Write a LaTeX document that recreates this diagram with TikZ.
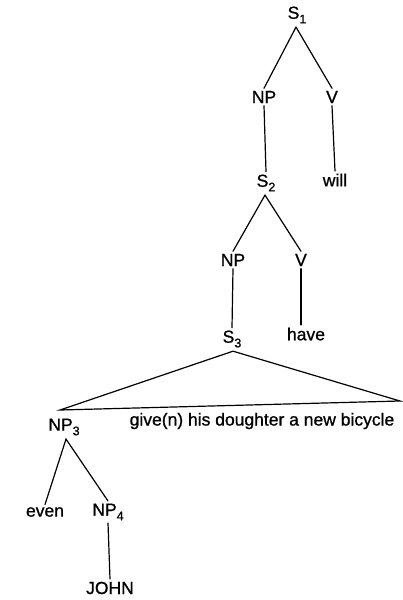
\documentclass[tikz,border=0pt]{standalone}
\usepackage{fontspec}
\setmainfont{Liberation Sans}[FakeBold=0.9]
\usetikzlibrary{calc}
\newcommand\lsub[1]{\raisebox{-0.5ex}{\fontsize{12.5}{14}\selectfont #1}}
\begin{document}
\begin{tikzpicture}[x=1pt,y=-1pt,
  lab/.style={inner sep=2.5pt,font=\fontsize{17.5}{20}\selectfont},
  edge/.style={line width=1.2pt,line cap=round,line join=miter}]
\useasboundingbox (0,0) rectangle (403,600);
% labels
\node[lab] (s1) at (297,15) {S\lsub{1}};
\node[lab] (np1) at (264,97) {NP};
\node[lab] (v1) at (332,97) {V};
\node[lab] (will) at (335,180) {will};
\node[lab] (s2) at (266,183) {S\lsub{2}};
\node[lab] (np2) at (233,260) {NP};
\node[lab] (v2) at (301,260) {V};
\node[lab] (have) at (306,334) {have};
\node[lab] (s3) at (232,339) {S\lsub{3}};
\node[lab] (np3) at (64,427) {NP\lsub{3}};
\node[lab,anchor=west] (give) at (127,421) {give(n) his doughter a new bicycle};
\node[lab] (even) at (45,512) {even};
\node[lab] (np4) at (108,512) {NP\lsub{4}};
\node[lab] (john) at (110,588) {JOHN};
% corners of the triangle under S3
\coordinate (tl) at (60,410);
\coordinate (tr) at (400,401);
% branches
\draw[edge] (np1.north) -- ($(s1.south)+(-1,1)$) -- (v1.north);
\draw[edge] (np1.south) -- (s2.north);
\draw[edge] (v1.south) -- (will.north);
\draw[edge] (np2.north) -- ($(s2.south)+(-1,1)$) -- (v2.north);
\draw[edge] (np2.south) -- (s3.north);
\draw[edge] (v2.south) -- (have.north -| v2.south);
\draw[edge] ($(s3.south)+(1,1)$) -- (tl) -- (tr) -- cycle;
\draw[edge] (even.north) -- ($(np3.south)+(2,1)$) -- (np4.north);
\draw[edge] (np4.south) -- (john.north);
\end{tikzpicture}
\end{document}
